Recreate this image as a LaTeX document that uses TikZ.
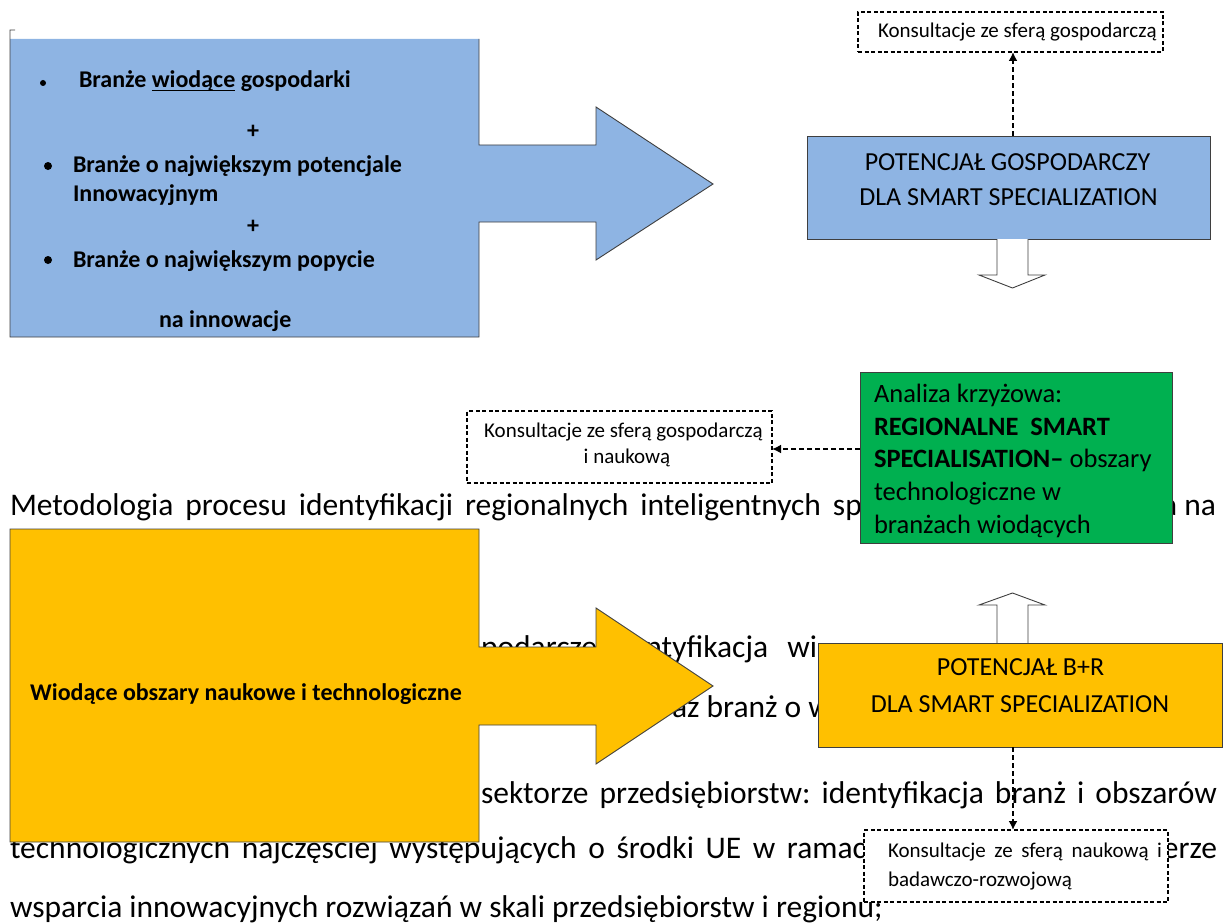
\documentclass[tikz,border=0pt]{standalone}
\usepackage{fontspec}
\setmainfont{Carlito}
\usetikzlibrary{arrows.meta,calc}
\definecolor{sblue}{HTML}{8EB4E3}
\definecolor{sgreen}{HTML}{00B050}
\definecolor{syell}{HTML}{FFC000}
\definecolor{edgec}{HTML}{3F3F3F}
\newcommand\myul[1]{\setbox0\hbox{#1}\rlap{\rule[-3.5pt]{\wd0}{1.5pt}}\box0\relax}
\newcommand\justline[2]{\hbox to #1{\spaceskip=.226em plus 1fil\xspaceskip=\spaceskip #2}}
\begin{document}
\begin{tikzpicture}[x=1pt,y=-1pt,
  every node/.style={inner sep=0pt, outer sep=0pt},
  bodytxt/.style={anchor=base west, font=\fontsize{31.5}{37}\selectfont},
  bullettxt/.style={anchor=base west, font=\fontsize{24}{29}\selectfont\bfseries},
  bigtxt/.style={anchor=base, font=\fontsize{26}{33}\selectfont},
  greentxt/.style={anchor=base west, font=\fontsize{26.5}{33}\selectfont},
  smalltxt/.style={anchor=base west, font=\fontsize{21}{26}\selectfont},
  solidbox/.style={draw=edgec, line width=0.9pt},
  dashbox/.style={draw=black, fill=white, line width=1.4pt, dash pattern=on 4pt off 2.5pt},
  conn/.style={draw=black, line width=2pt, dash pattern=on 5pt off 3pt, -{Latex[length=9pt,width=9pt]}},
  hollow/.style={draw=edgec, fill=white, line width=0.9pt},
  dot/.style={circle, fill=black}
]
\useasboundingbox (0,0) rectangle (1223,923);

% ---- body text (background) ----
\node[bodytxt] (t1) at (10,515) {\justline{852pt}{Metodologia procesu identyfikacji regionalnych inteligentnych sp}};
\node[bodytxt, anchor=base east] (t1b) at (1216,515) {a na};
\node[bodytxt] (t2a) at (481,657) {podarcze:};
\node[bodytxt] (t2b) at (606,657) {identyfikacja\hspace{12pt} wi};
\node[bodytxt] (t3) at (672,717) {az branż o w};
\node[bodytxt] (t4) at (481,803) {\justline{736pt}{sektorze przedsiębiorstw: identyfikacja branż i obszarów}};
\node[bodytxt] (t5) at (10,858) {\justline{856pt}{technologicznych najczęściej występujących o środki UE w ramac}};
\node[bodytxt, anchor=base east] (t5b) at (1217,858) {erze};
\node[bodytxt] (t6) at (10,917) {wsparcia innowacyjnych rozwiązań w skali przedsiębiorstw i regionu;};

% ---- blue big arrow ----
\fill[sblue] (10,39) -- (479,39) -- (479,145) -- (596,145) -- (596,107) -- (713,184)
  -- (596,260) -- (596,222) -- (479,222) -- (479,337) -- (10,337) -- cycle;
\draw[edgec, line width=0.9pt] (15,30) -- (10,30) -- (10,337) -- (479,337) -- (479,222) -- (596,222)
  -- (596,260) -- (713,184) -- (596,107) -- (596,145) -- (479,145) -- (479,39);
\node[dot, minimum size=6pt] (b1) at (43,83) {};
\node[dot, minimum size=8pt] (b2) at (48,166) {};
\node[dot, minimum size=8pt] (b3) at (48,260) {};
\node[bullettxt] (l1) at (79,88) {Branże \myul{wiodące} gospodarki};
\node[bullettxt, anchor=center] (p1) at (253,132) {+};
\node[bullettxt] (l2) at (73,172) {Branże o największym potencjale};
\node[bullettxt] (l2b) at (73,201) {Innowacyjnym};
\node[bullettxt, anchor=center] (p2) at (253,227) {+};
\node[bullettxt] (l3) at (73,267) {Branże o największym popycie};
\node[bullettxt] (l3b) at (159,327) {na innowacje};

% ---- yellow big arrow ----
\path[fill=syell, draw=edgec, line width=0.9pt] (10,529) -- (479,529) -- (479,647) -- (596,647) -- (596,608)
  -- (713,686) -- (596,764) -- (596,725) -- (479,725) -- (479,842) -- (10,842) -- cycle;
\node[bullettxt, anchor=base] (wio) at (246,700) {Wiodące obszary naukowe i technologiczne};

% ---- top right ----
\node[dashbox, minimum width=305pt, minimum height=40pt] (kons1) at (1010.5,32) {};
\node[smalltxt] (kons1t) at (878,38) {Konsultacje ze sferą gospodarczą};
\node[solidbox, fill=sblue, minimum width=403pt, minimum height=103pt] (potG) at (1008.5,187.5) {};
\node[bigtxt] (potG1) at (1007.5,170) {POTENCJAŁ GOSPODARCZY};
\node[bigtxt] (potG2) at (1008.5,205) {DLA SMART SPECIALIZATION};
\coordinate (ax) at (1013,0);
\draw[conn] (potG.north -| ax) -- (kons1.south -| ax);
\draw[hollow] (997,239) -- (997,275) -- (979,275) -- (1012.5,288) -- (1045,275) -- (1028,275) -- (1028,239);

% ---- green ----
\node[solidbox, fill=sgreen, minimum width=312pt, minimum height=171pt] (green) at (1016,457.5) {};
\node[greentxt] (g1) at (874,402) {Analiza krzyżowa:};
\node[greentxt] (g2) at (874,435) {\textbf{REGIONALNE\ \ SMART}};
\node[greentxt] (g3) at (874,467) {\textbf{SPECIALISATION–} obszary};
\node[greentxt] (g4) at (874,500) {technologiczne w};
\node[greentxt] (g5) at (874,533) {branżach wiodących};
\node[dashbox, minimum width=305pt, minimum height=72pt] (kons2) at (619.5,447) {};
\node[smalltxt, anchor=base] (kons2a) at (623.5,437) {Konsultacje ze sferą gospodarczą};
\node[smalltxt, anchor=base] (kons2b) at (627,463) {i naukową};
\coordinate (ay) at (0,449);
\draw[conn] (green.west |- ay) -- (kons2.east |- ay);

% ---- B+R ----
\draw[hollow] (997,643) -- (997,605) -- (979,605) -- (1012.5,593) -- (1045,605) -- (1028,605) -- (1028,643);
\node[solidbox, fill=syell, minimum width=404pt, minimum height=104pt] (potBR) at (1020,695) {};
\node[bigtxt] (br1) at (1020.5,675) {POTENCJAŁ B+R};
\node[bigtxt] (br2) at (1020,712) {DLA SMART SPECIALIZATION};
\node[dashbox, minimum width=304pt, minimum height=72pt] (kons3) at (1016,866) {};
\node[smalltxt] (kons3a) at (888,857) {\justline{274pt}{Konsultacje ze sferą naukową i}};
\node[smalltxt] (kons3b) at (888,886) {badawczo-rozwojową};
\draw[conn] (potBR.south -| ax) -- (kons3.north -| ax);
\end{tikzpicture}
\end{document}
